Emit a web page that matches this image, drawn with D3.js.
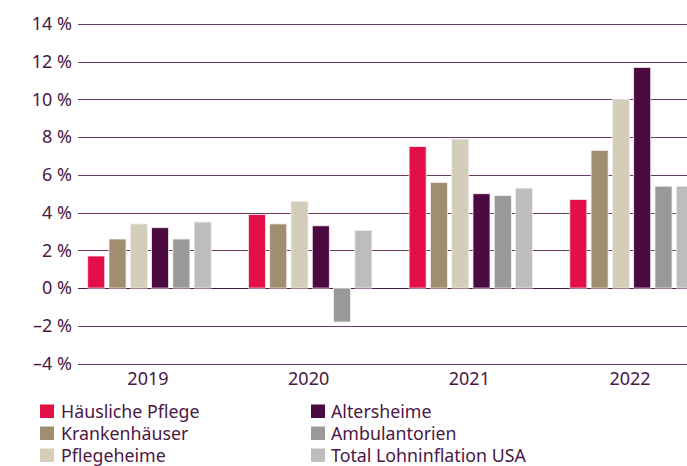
<!DOCTYPE html>
<html><head><meta charset="utf-8">
<script src="https://cdn.jsdelivr.net/npm/d3@7"></script>
<style>
html,body{margin:0;padding:0;background:#fff;}
svg{display:block;}
text{font-family:"Noto Sans","Open Sans",sans-serif;fill:#4b1744;}
</style></head>
<body>
<svg id="chart" width="687" height="466"></svg>
<script>
const years = ["2019","2020","2021","2022"];
const seriesNames = ["Häusliche Pflege","Krankenhäuser","Pflegeheime","Altersheime","Ambulantorien","Total Lohninflation USA"];
const seriesColors = ["#e30f47","#a08e70","#d4cdb9","#4b0a40","#999999","#bdbdbd"];
const haeuslichePflege = [1.7, 3.9, 7.5, 4.7];
const krankenhaeuser = [2.6, 3.4, 5.6, 7.3];
const pflegeheime = [3.4, 4.6, 7.9, 10.0];
const altersheime = [3.2, 3.3, 5.0, 11.7];
const ambulantorien = [2.6, -1.8, 4.9, 5.4];
const totalLohninflation = [3.5, 3.05, 5.3, 5.4];
const yTicks = [-4,-2,0,2,4,6,8,10,12,14];
const yTickLabels = ["–4 %","–2 %","0 %","2 %","4 %","6 %","8 %","10 %","12 %","14 %"];

const allSeries = [haeuslichePflege, krankenhaeuser, pflegeheime, altersheime, ambulantorien, totalLohninflation];

const svg = d3.select("#chart");
const y = d3.scaleLinear().domain([-4,14]).range([363.5,24]);
const x0 = d3.scaleBand().domain(years).range([87.7, 693.3]).paddingInner(0.2315).paddingOuter(0);
const x1 = d3.scaleBand().domain(seriesNames).range([0, x0.bandwidth()]).paddingInner(0.2).paddingOuter(0);

svg.append("defs").append("clipPath").attr("id","clip")
  .append("rect").attr("x",0).attr("y",0).attr("width",687).attr("height",466);

// gridlines
svg.append("g").selectAll("line").data(yTicks).join("line")
  .attr("x1",78).attr("x2",687)
  .attr("y1",d=>Math.round(y(d))+0.5).attr("y2",d=>Math.round(y(d))+0.5)
  .attr("stroke",d=>d===0?"#4b1a44":"#6a3a62").attr("stroke-width",1.2);

// y labels
svg.append("g").selectAll("text").data(yTicks).join("text")
  .attr("x",72).attr("y",d=>y(d)).attr("dy","0.35em")
  .attr("text-anchor","end").attr("font-size",18)
  .text((d,i)=>yTickLabels[i]);

// bars
const g = svg.append("g").attr("clip-path","url(#clip)");
years.forEach((yr,i)=>{
  seriesNames.forEach((s,j)=>{
    const v = allSeries[j][i];
    g.append("rect")
      .attr("x", x0(yr)+x1(s))
      .attr("width", x1.bandwidth())
      .attr("y", y(Math.max(0,v)))
      .attr("height", Math.abs(y(v)-y(0)))
      .attr("fill", seriesColors[j])
      .attr("stroke","#f2eef0").attr("stroke-width",0.8);
  });
});

// x labels
svg.append("g").selectAll("text").data(years).join("text")
  .attr("x",d=>x0(d)+x0.bandwidth()/2 - 1.5).attr("y",385)
  .attr("text-anchor","middle").attr("font-size",18)
  .text(d=>d);

// legend
const legX = [40, 311];
const legTextX = [61, 331];
const legY = [418, 440, 462];
seriesNames.forEach((s,j)=>{
  const col = j<3?0:1, row = j%3;
  svg.append("rect").attr("x",legX[col]).attr("y",legY[row]-13.5)
    .attr("width",14).attr("height",13.5).attr("fill",seriesColors[j]);
  svg.append("text").attr("x",legTextX[col]).attr("y",legY[row])
    .attr("font-size",17.8).attr("textLength", null).text(s);
});
</script>
</body></html>
